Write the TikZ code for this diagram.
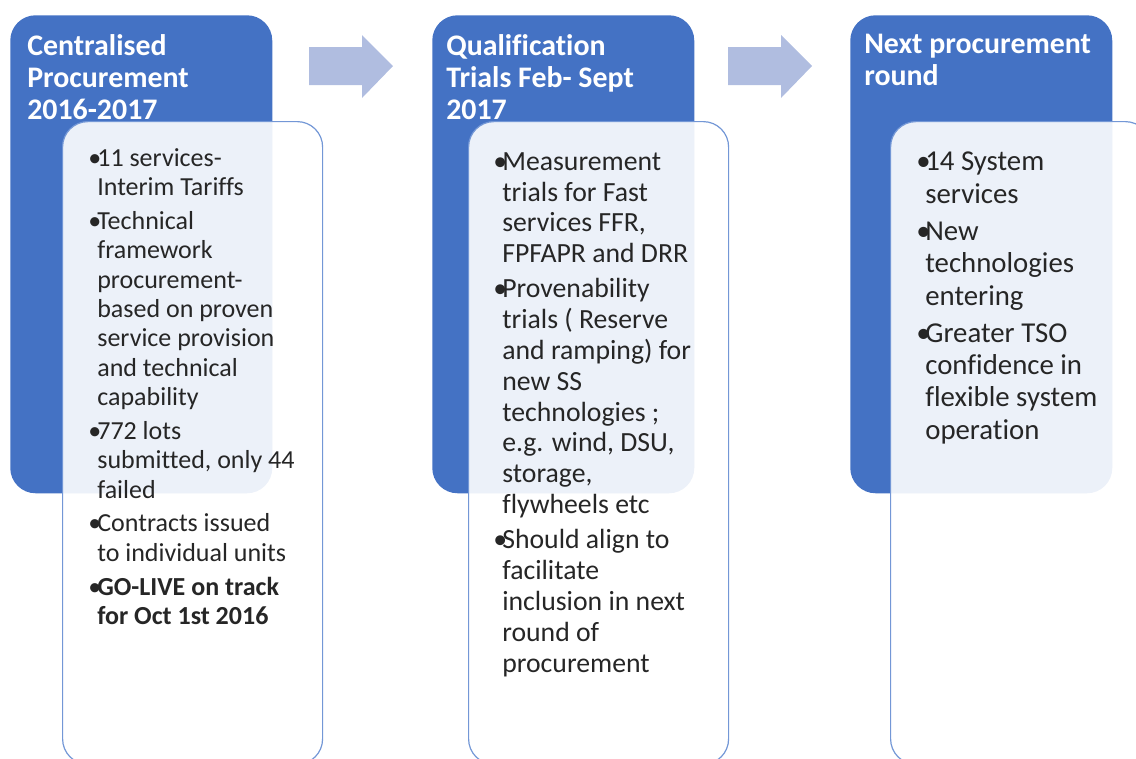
\documentclass[tikz,border=0pt]{standalone}
\usepackage{fontspec}
\setmainfont[Ligatures=NoCommon]{Carlito}
\usetikzlibrary{positioning}
\definecolor{stageblue}{HTML}{4472C4}
\definecolor{arrowblue}{HTML}{B0BDE0}
\definecolor{rimblue}{HTML}{7397D6}
\definecolor{bodytext}{HTML}{262626}
\newcommand{\bl}{\makebox[6.8pt][l]{\textbullet}}

\begin{document}
\begin{tikzpicture}[x=0.75pt,y=-0.75pt,
    stage/.style={rectangle, rounded corners=19pt, fill=stageblue, anchor=north west, minimum width=196.5pt, minimum height=358.5pt, inner sep=0pt},
    card/.style={rectangle, rounded corners=19pt, draw=rimblue, line width=0.9pt, fill=white, fill opacity=0.9, anchor=north west, minimum width=195pt, minimum height=482pt, inner sep=0pt},
    head/.style={anchor=north west, inner sep=0pt, align=left, text=white, font=\fontsize{22.4}{24}\selectfont\bfseries},
    items/.style={anchor=north west, inner sep=0pt, text=bodytext},
    step arrow/.style={fill=arrowblue}]
    \useasboundingbox (0,0) rectangle (1136,758);

    % Blue stage boxes
    \node[stage] (p1) at (10,15) {};
    \node[stage] (p2) at (432,15) {};
    \node[stage] (p3) at (850,15) {};

    % Stage titles
    \node[head] (h1) at (27,34) {Centralised\\Procurement\\2016-2017};
    \node[head] (h2) at (446,34) {Qualification\\Trials Feb- Sept\\2017};
    \node[head] (h3) at (864,34) {Next procurement\\round};

    % Block arrows between the stages
    \fill[step arrow] (309,47) -- (362,47) -- (362,35) -- (393,66) -- (362,98) -- (362,85) -- (309,85) -- cycle;
    \fill[step arrow] (728,47) -- (781,47) -- (781,35) -- (812,66) -- (781,98) -- (781,85) -- (728,85) -- cycle;

    % White cards over the stages
    \node[card] (c1) at (62,121) {};
    \node[card] (c2) at (468,121) {};
    \node[card] (c3) at (890,121) {};

    % Bullet lists
    \node[items, font=\fontsize{19.5}{22}\selectfont] (l1) at (88,145.5) {%
    \begin{tabular}{@{}l@{}l@{}}
    \bl & 11 services-\\
        & Interim Tariffs\\[3.4pt]
    \bl & Technical\\
        & framework\\
        & procurement-\\
        & based on proven\\
        & service provision\\
        & and technical\\
        & capability\\[3.4pt]
    \bl & 772 lots\\
        & submitted, only 44\\
        & failed\\[3.4pt]
    \bl & Contracts issued\\
        & to individual units\\[3.4pt]
    \bl & \textbf{GO-LIVE on track}\\
        & \textbf{for Oct 1st 2016}
    \end{tabular}};
    \node[items, font=\fontsize{20.8}{23.1}\selectfont] (l2) at (493,148.4) {%
    \begin{tabular}{@{}l@{}l@{}}
    \bl & Measurement\\
        & trials for Fast\\
        & services FFR,\\
        & FPFAPR and DRR\\[3.4pt]
    \bl & Provenability\\
        & trials ( Reserve\\
        & and ramping) for\\
        & new SS\\
        & technologies ;\\
        & e.g. wind, DSU,\\
        & storage,\\
        & flywheels etc\\[3.4pt]
    \bl & Should align to\\
        & facilitate\\
        & inclusion in next\\
        & round of\\
        & procurement
    \end{tabular}};
    \node[items, font=\fontsize{21.6}{24.3}\selectfont] (l3) at (916,148) {%
    \begin{tabular}{@{}l@{}l@{}}
    \bl & 14 System\\
        & services\\[3.4pt]
    \bl & New\\
        & technologies\\
        & entering\\[3.4pt]
    \bl & Greater TSO\\
        & confidence in\\
        & flexible system\\
        & operation
    \end{tabular}};
\end{tikzpicture}
\end{document}
